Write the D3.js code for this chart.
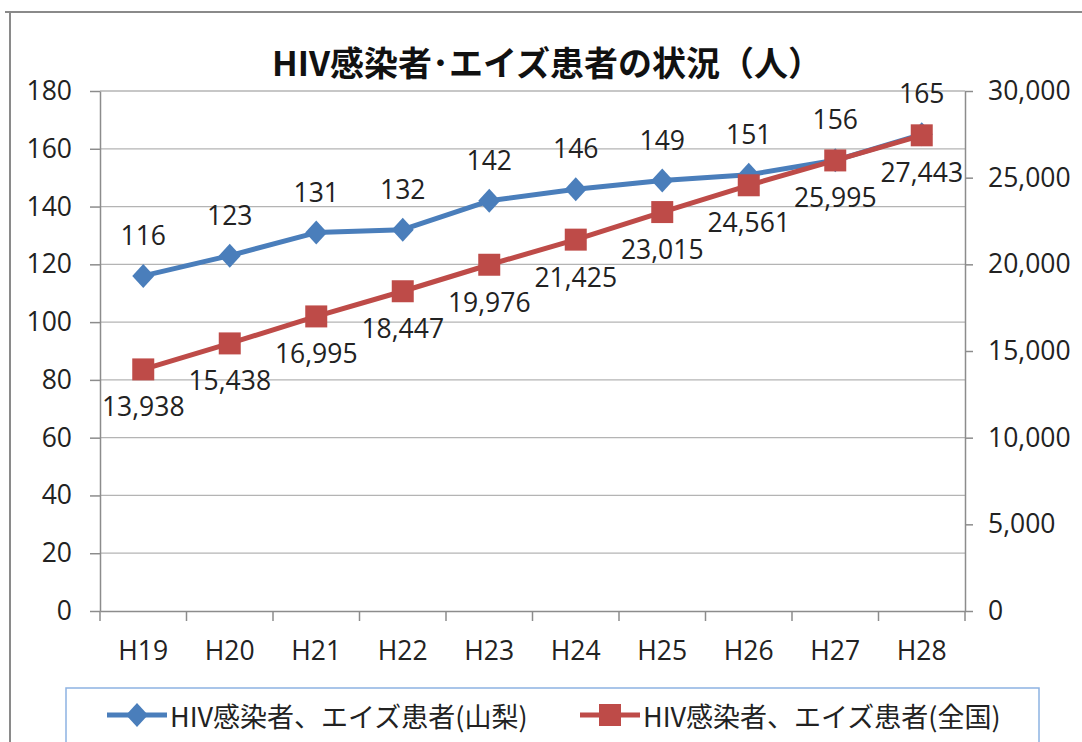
<!DOCTYPE html>
<html><head><meta charset="utf-8">
<script src="https://cdn.jsdelivr.net/npm/d3@7"></script>
<style>
html,body{margin:0;padding:0;background:#fff;}
svg{display:block;}
</style></head>
<body>
<svg id="chart" width="1082" height="742"></svg>
<script>
const title = "HIV感染者･エイズ患者の状況（人）";
const categories = ["H19","H20","H21","H22","H23","H24","H25","H26","H27","H28"];
const yamanashi = [116,123,131,132,142,146,149,151,156,165];
const national = [13938,15438,16995,18447,19976,21425,23015,24561,25995,27443];
const leftTicks = [0,20,40,60,80,100,120,140,160,180];
const rightTicks = [0,5000,10000,15000,20000,25000,30000];
const seriesNames = ["HIV感染者、エイズ患者(山梨)","HIV感染者、エイズ患者(全国)"];

const blue = "#4A7EBB", red = "#BE4B48";
const numFont = "'Open Sans', 'Noto Sans', sans-serif";
const jpFont = "'Noto Sans CJK JP', sans-serif";

const svg = d3.select("#chart");
const L = 100, R = 965, T = 91, B = 611;

const x = d3.scaleBand().domain(categories).range([L, R]);
const yL = d3.scaleLinear().domain([0, 180]).range([B, T]);
const yR = d3.scaleLinear().domain([0, 30000]).range([B, T]);
const fmt = d3.format(",");

// outer frame (top and left)
svg.append("line").attr("x1",5).attr("x2",1082).attr("y1",12).attr("y2",12).attr("stroke","#8a8a8a").attr("stroke-width",2);
svg.append("line").attr("x1",10).attr("x2",10).attr("y1",12).attr("y2",742).attr("stroke","#8a8a8a").attr("stroke-width",2);

// title
svg.append("text").attr("x",547).attr("y",76).attr("text-anchor","middle")
  .attr("font-family",jpFont).attr("font-weight","bold").attr("font-size",34).attr("fill","#111")
  .text(title);

// gridlines
svg.append("g").selectAll("line").data(leftTicks.filter(d=>d>0)).join("line")
  .attr("x1",L).attr("x2",R).attr("y1",d=>yL(d)).attr("y2",d=>yL(d))
  .attr("stroke","#b4b4b4").attr("stroke-width",1.3);

// left axis
const gL = svg.append("g").attr("transform",`translate(${L},0)`)
  .call(d3.axisLeft(yL).tickValues(leftTicks).tickSize(10).tickSizeOuter(0).tickPadding(18));
// right axis
const gR = svg.append("g").attr("transform",`translate(${R},0)`)
  .call(d3.axisRight(yR).tickValues(rightTicks).tickFormat(fmt).tickSize(8).tickSizeOuter(0).tickPadding(15));
// bottom axis (labels)
const gB = svg.append("g").attr("transform",`translate(0,${B})`)
  .call(d3.axisBottom(x).tickSize(0).tickPadding(30));
[gL,gR,gB].forEach(g=>{
  g.selectAll("path.domain").attr("stroke","#8c8c8c").attr("stroke-width",1.5);
  g.selectAll(".tick line").attr("stroke","#8c8c8c").attr("stroke-width",1.5);
  g.selectAll("text").attr("font-family",numFont).attr("font-size",26.5).attr("fill","#222");
});
// category boundary ticks
const bounds = d3.range(categories.length+1).map(i => L + i*x.step());
svg.append("g").selectAll("line").data(bounds).join("line")
  .attr("x1",d=>d).attr("x2",d=>d).attr("y1",B).attr("y2",B+10)
  .attr("stroke","#8c8c8c").attr("stroke-width",1.5);

const cx = c => x(c) + x.bandwidth()/2;
const diamond = "M0,-12L11,0L0,12L-11,0Z";
const square = "M-11,-11H11V11H-11Z";

// blue series
svg.append("path").datum(yamanashi)
  .attr("d", d3.line().x((d,i)=>cx(categories[i])).y(d=>yL(d)))
  .attr("fill","none").attr("stroke",blue).attr("stroke-width",5).attr("stroke-linejoin","round");
svg.append("g").selectAll("path").data(yamanashi).join("path")
  .attr("d",diamond).attr("transform",(d,i)=>`translate(${cx(categories[i])},${yL(d)})`)
  .attr("fill",blue);

// red series
svg.append("path").datum(national)
  .attr("d", d3.line().x((d,i)=>cx(categories[i])).y(d=>yR(d)))
  .attr("fill","none").attr("stroke",red).attr("stroke-width",5).attr("stroke-linejoin","round");
svg.append("g").selectAll("path").data(national).join("path")
  .attr("d",square).attr("transform",(d,i)=>`translate(${cx(categories[i])},${yR(d)})`)
  .attr("fill",red);

// data labels
svg.append("g").selectAll("text").data(yamanashi).join("text")
  .attr("x",(d,i)=>cx(categories[i])).attr("y",d=>yL(d)-41)
  .attr("text-anchor","middle").attr("dominant-baseline","central")
  .attr("font-family",numFont).attr("font-size",26.5).attr("fill","#222")
  .text(d=>d);
svg.append("g").selectAll("text").data(national).join("text")
  .attr("x",(d,i)=>cx(categories[i])).attr("y",d=>yR(d)+37)
  .attr("text-anchor","middle").attr("dominant-baseline","central")
  .attr("font-family",numFont).attr("font-size",26.5).attr("fill","#222")
  .text(d=>fmt(d));

// legend
svg.append("rect").attr("x",66).attr("y",688).attr("width",973).attr("height",70)
  .attr("fill","#fff").attr("stroke","#8db3e2").attr("stroke-width",1.5);
const legendItems = [
  {name: seriesNames[0], color: blue, shape: diamond, x0: 107},
  {name: seriesNames[1], color: red, shape: square, x0: 580}
];
const lg = svg.append("g").selectAll("g").data(legendItems).join("g")
  .attr("transform",d=>`translate(${d.x0},715)`);
lg.append("line").attr("x1",0).attr("x2",60).attr("y1",0).attr("y2",0)
  .attr("stroke",d=>d.color).attr("stroke-width",5);
lg.append("path").attr("d",d=>d.shape).attr("transform","translate(30,0)").attr("fill",d=>d.color);
lg.append("text").attr("x",63).attr("y",0).attr("dominant-baseline","central")
  .attr("font-family",jpFont).attr("font-size",27).attr("fill","#222")
  .text(d=>d.name);
</script>
</body></html>
